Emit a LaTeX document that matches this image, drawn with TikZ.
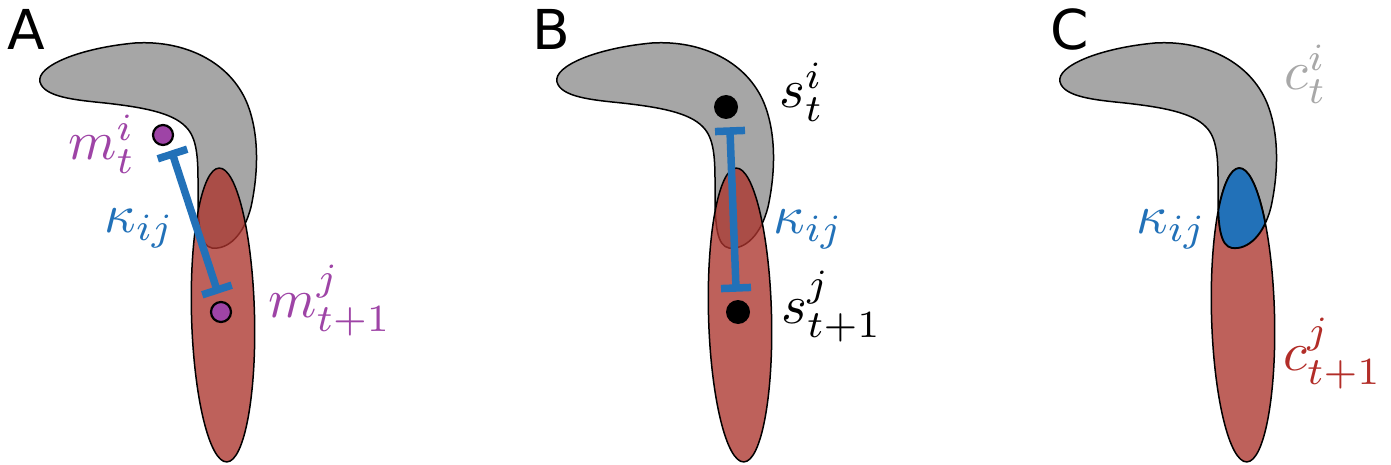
\documentclass[tikz,border=0pt]{standalone}
\usepackage{fontspec}
\newfontfamily\panelfont{DejaVu Sans}
\usetikzlibrary{calc}
\definecolor{shapegray}{RGB}{166,166,166}
\definecolor{cellred}{RGB}{172,52,45}
\definecolor{kblue}{RGB}{34,113,184}
\definecolor{mpurple}{RGB}{158,68,166}
\definecolor{labelgray}{RGB}{168,168,168}
\definecolor{labelred}{RGB}{178,45,40}
\tikzset{
  x=1pt, y=1pt,
  boomerang/.style={insert path={(40,-82) .. controls (36,-66) and (80,-48) .. (135,-43)
     .. controls (185,-40) and (230,-62) .. (247,-103)
     .. controls (260,-135) and (258,-175) .. (251,-207)
     .. controls (244,-235) and (228,-250) .. (212,-248)
     .. controls (200,-246) and (198,-225) .. (198,-195)
     .. controls (198,-165) and (199,-140) .. (186,-127)
     .. controls (172,-112) and (140,-107) .. (105,-103)
     .. controls (75,-100) and (44,-97) .. (40,-82) -- cycle}},
  cellellipse/.style={insert path={(223,-315) ellipse [x radius=31.5, y radius=147, rotate=1.5]}},
  outline/.style={draw=black, line width=1.5pt},
  kbar/.style={draw=kblue, line width=7.5pt},
  panellabel/.style={anchor=base west, inner sep=0pt, font=\panelfont\fontsize{55}{60}\selectfont},
  mathlabel/.style={anchor=base west, inner sep=0pt, scale=5.5},
  pdot/.style={circle, fill=mpurple, draw=black, line width=2.2pt, minimum size=20pt, inner sep=0pt},
  bdot/.style={circle, fill=black, minimum size=24pt, inner sep=0pt},
}
\begin{document}
\begin{tikzpicture}
\useasboundingbox (0,0) rectangle (1391,-465);
% ---------- Panel A ----------
\begin{scope}
  \fill[shapegray, outline, boomerang];
  \fill[cellred, fill opacity=0.78, outline, cellellipse];
  \coordinate (a1) at (172.5,-154);
  \coordinate (a2) at (217,-290);
  \draw[kbar] (a1) -- (a2);
  \draw[kbar] ($(a1)!15.5pt!90:(a2)$) -- ($(a1)!15.5pt!-90:(a2)$);
  \draw[kbar] ($(a2)!15.5pt!90:(a1)$) -- ($(a2)!15.5pt!-90:(a1)$);
  \node[pdot] (mi) at (163,-135) {};
  \node[pdot] (mj) at (221,-312) {};
\end{scope}
\node[panellabel] (lA) at (7,-50) {A};
\node[mathlabel, text=mpurple] (lmi) at (67,-160) {$m_t^i$};
\node[mathlabel, text=mpurple] (lmj) at (267,-317) {$m_{t+1}^j$};
\node[mathlabel, text=kblue] (lka) at (103,-232) {$\kappa_{ij}$};
% ---------- Panel B ----------
\begin{scope}[xshift=517pt]
  \fill[shapegray, outline, boomerang];
  \fill[cellred, fill opacity=0.78, outline, cellellipse];
  \coordinate (b1) at (213,-131);
  \coordinate (b2) at (219,-288);
  \draw[kbar] (b1) -- (b2);
  \draw[kbar] ($(b1)!15pt!90:(b2)$) -- ($(b1)!15pt!-90:(b2)$);
  \draw[kbar] ($(b2)!15pt!90:(b1)$) -- ($(b2)!15pt!-90:(b1)$);
  \node[bdot] (si) at (209,-107) {};
  \node[bdot] (sj) at (221,-312) {};
\end{scope}
\node[panellabel] (lB) at (532,-50) {B};
\node[mathlabel, text=black] (lsi) at (778,-108) {$s_t^i$};
\node[mathlabel, text=black] (lsj) at (780,-323) {$s_{t+1}^j$};
\node[mathlabel, text=kblue] (lkb) at (772,-233) {$\kappa_{ij}$};
% ---------- Panel C ----------
\begin{scope}[xshift=1020pt]
  \fill[shapegray, outline, boomerang];
  \fill[cellred, fill opacity=0.78, outline, cellellipse];
  \begin{scope}
    \path[clip, cellellipse];
    \fill[kblue, boomerang];
    \draw[line width=1.8pt, boomerang];
  \end{scope}
  \begin{scope}
    \path[clip, boomerang];
    \draw[line width=1.8pt, cellellipse];
  \end{scope}
\end{scope}
\node[panellabel] (lC) at (1050,-50) {C};
\node[mathlabel, text=labelgray] (lci) at (1283,-90) {$c_t^i$};
\node[mathlabel, text=labelred] (lcj) at (1282,-370) {$c_{t+1}^j$};
\node[mathlabel, text=kblue] (lkc) at (1135,-233) {$\kappa_{ij}$};
\end{tikzpicture}
\end{document}
